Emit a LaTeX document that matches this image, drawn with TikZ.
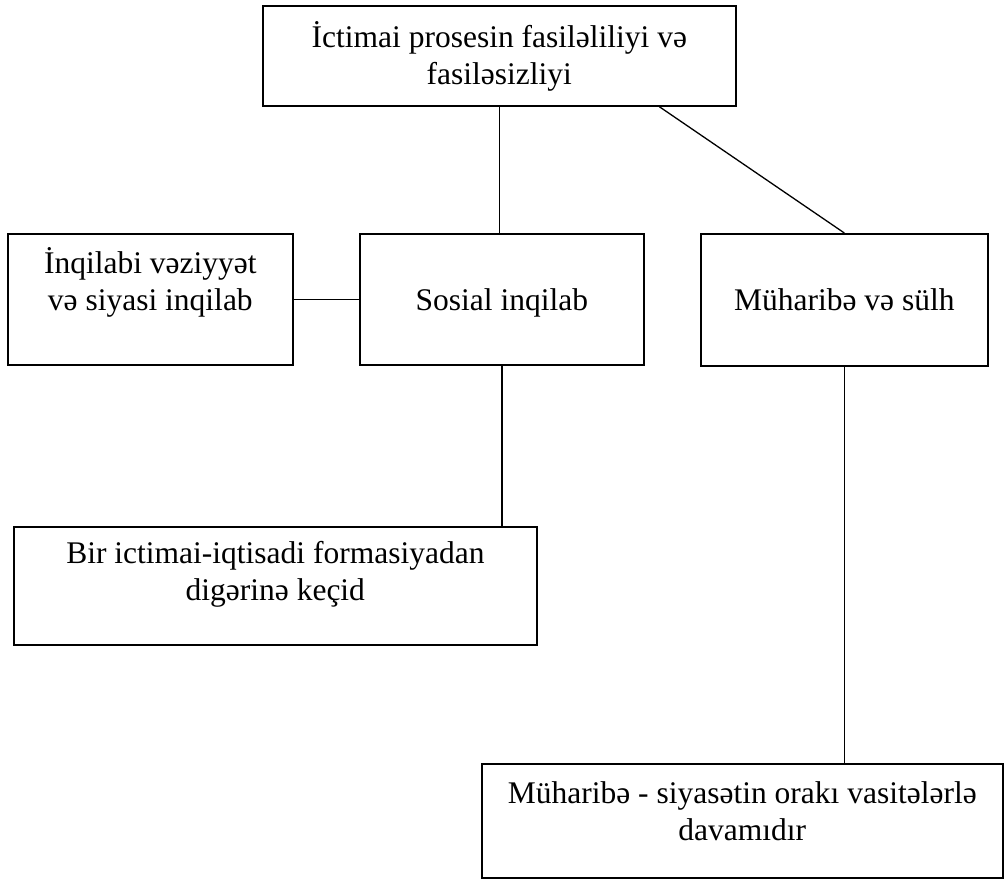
\documentclass[tikz,border=0pt]{standalone}
\usepackage{fontspec}
\setmainfont{Liberation Serif}
\usepackage{tikz}
\newcommand{\qutumetn}[4]{\parbox[c][#2][t]{#1}{\centering\rule{0pt}{#3}#4}}
\tikzset{
  qutu/.style = {draw, line width=1.7pt, inner sep=0pt, anchor=north west},
  xett/.style = {line width=1.3pt}
}

\begin{document}
\begin{tikzpicture}[x=1pt, y=-1pt, font={\fontsize{31.5}{36.2}\selectfont}]
  \useasboundingbox (0,0) rectangle (1005,880);
  % qutular
  \node[qutu] (ust) at (262,5) {\qutumetn{473pt}{100pt}{42pt}{İctimai prosesin fasiləliliyi və\\ fasiləsizliyi}};
  \node[qutu] (sol) at (7,233) {\qutumetn{285pt}{131pt}{40pt}{İnqilabi vəziyyət\\ və siyasi inqilab}};
  \node[qutu] (orta) at (359,233) {\qutumetn{284pt}{131pt}{77pt}{Sosial inqilab}};
  \node[qutu] (sag) at (700,233) {\qutumetn{287pt}{132pt}{77pt}{Müharibə və sülh}};
  \node[qutu] (kecid) at (13,526) {\qutumetn{523pt}{118pt}{37pt}{Bir ictimai-iqtisadi formasiyadan\\ digərinə keçid}};
  \node[qutu] (davam) at (481,763) {\qutumetn{521pt}{114pt}{40pt}{Müharibə - siyasətin orakı vasitələrlə\\ davamıdır}};
  % xettler
  \draw[xett] (ust.south) -- (ust.south |- orta.north);
  \draw[xett] ([xshift=160pt]ust.south) -- (sag.north);
  \draw[xett] (sol.east) -- (orta.west);
  \draw[xett] (orta.south) -- (orta.south |- kecid.north);
  \draw[xett] (sag.south) -- (sag.south |- davam.north);
\end{tikzpicture}
\end{document}
